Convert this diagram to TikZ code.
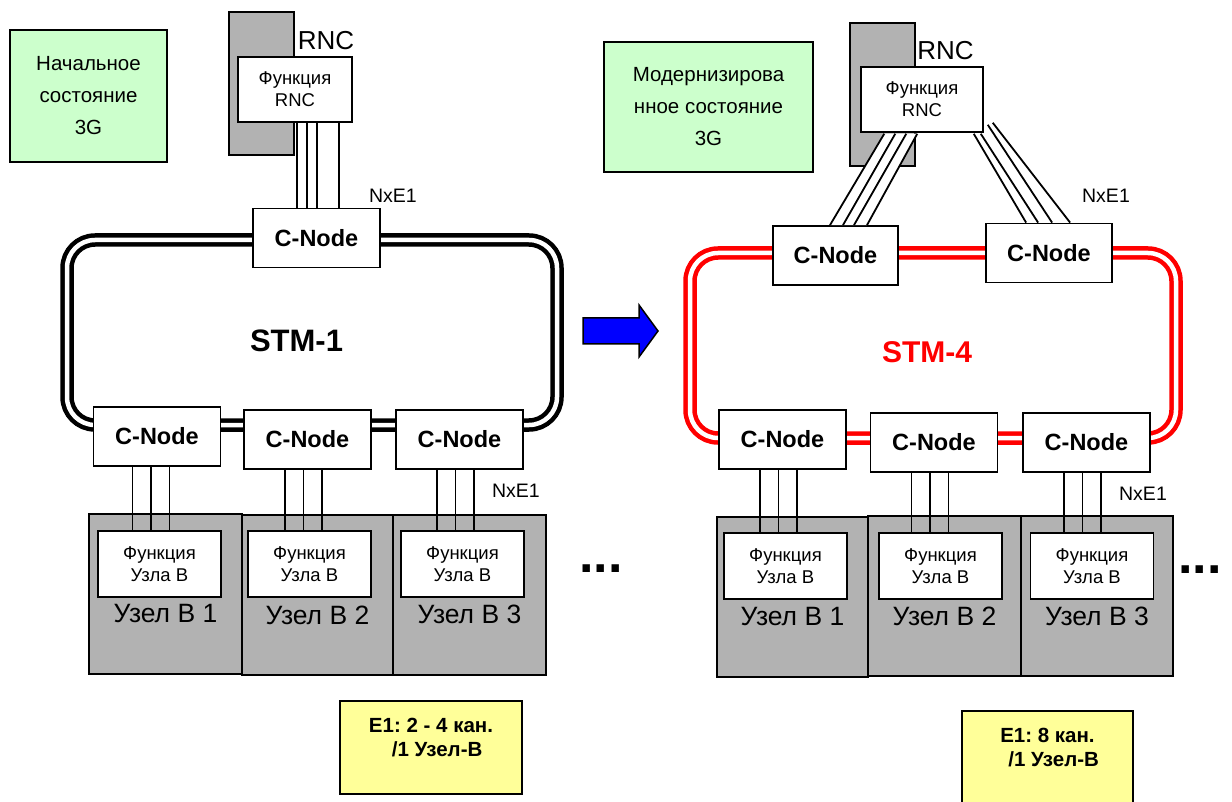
\documentclass[tikz,border=0pt]{standalone}
\usepackage{fontspec}
\setmainfont{Liberation Sans}
\usepackage{xcolor}
\usepackage{tikz}
\usetikzlibrary{positioning,calc}
\frenchspacing

\definecolor{grayB}{HTML}{B2B2B2}
\definecolor{greenN}{HTML}{CCFFCC}
\definecolor{yellowN}{HTML}{FFFF99}

\begin{document}
\begin{tikzpicture}[x=1pt, y=-1pt,
  cnode/.style={draw, line width=1.8, fill=white, minimum width=127, minimum height=59,
                inner sep=0, font=\fontsize{23.5}{28}\selectfont\bfseries},
  fbox/.style={draw, line width=1.5, fill=white, minimum width=123, minimum height=66,
               inner sep=0, align=center, font=\fontsize{18.5}{22}\selectfont},
  ubox/.style={draw, line width=2, fill=grayB, minimum width=152, minimum height=160, inner sep=0},
  ulbl/.style={inner sep=0, font=\fontsize{26.5}{30}\selectfont},
  note/.style={draw, line width=1.5, fill=greenN, align=center, inner sep=0,
               font=\fontsize{20.5}{32}\selectfont},
  memo/.style={draw, line width=1.5, fill=yellowN, inner sep=0},
  memotxt/.style={inner sep=0, align=center, font=\fontsize{20.5}{24}\selectfont\bfseries},
  lbl/.style={inner sep=0, font=\fontsize{19.5}{23}\selectfont},
  rncl/.style={inner sep=0, font=\fontsize{26}{30}\selectfont},
  stm/.style={inner sep=0, font=\fontsize{31}{36}\selectfont\bfseries},
  dots/.style={inner sep=0, anchor=base west, font=\fontsize{52}{60}\selectfont\bfseries},
  ringK/.style={draw=black, double=white, line width=4.5, double distance=4.5, rounded corners=28},
  ringR/.style={ringK, draw=red},
  link/.style={line width=1.8},
]
  \useasboundingbox (0,0) rectangle (1232,802);

  % ---- initial state (left)
  \node[note, minimum width=157, minimum height=132] (noteL) at (88.5,96) {Начальное\\состояние\\3G};
  \node[ubox, minimum width=65, minimum height=143] (rncL) at (261.5,83.5) {};
  \node[rncl] (rncLt) at (326,41) {RNC};
  \node[fbox, minimum width=114, minimum height=65] (frncL) at (295,89.5) {Функция\\RNC};

  \draw[ringK] (67,240) rectangle (557,425);

  \node[cnode] (cnT) at (316.5,238) {C-Node};
  \node[lbl] (nxeT) at (393,196) {NxE1};
  \node[stm] (stmA) at (296.5,341) {STM-1};

  \node[cnode] (cn1) at (157,436.5) {C-Node};
  \node[cnode] (cn2) at (307.5,439.5) {C-Node};
  \node[cnode] (cn3) at (459.5,439.5) {C-Node};

  \node[ubox, minimum width=153] (u1) at (165.5,594) {};
  \node[ubox, minimum width=151] (u2) at (317.5,595) {};
  \node[ubox, minimum width=153] (u3) at (469.5,594.5) {};
  \node[fbox] (f1) at (159.5,564) {Функция\\Узла В};
  \node[fbox] (f2) at (309.5,564) {Функция\\Узла В};
  \node[fbox] (f3) at (462.5,564) {Функция\\Узла В};
  \node[ulbl] (l1) at ($(u1.center)+(0,20)$) {Узел В 1};
  \node[ulbl] (l2) at ($(u2.center)+(0,20)$) {Узел В 2};
  \node[ulbl] (l3) at ($(u3.center)+(0,20)$) {Узел В 3};

  \node[lbl] (nxeB) at (516,491) {NxE1};
  \node[dots] (dotsL) at (579,572) {...};

  \node[memo, minimum width=182, minimum height=93] (memoL) at (431,747.5) {};
  \node[memotxt, below=18pt of memoL.north] (memoLt) {E1: 2 - 4 кан.\\\hspace*{0.6em}/1 Узел-В};

  \foreach \dx in {2,12,22,44}
    \draw[link] ($(frncL.south)+(\dx,0)$) -- ($(frncL.south |- cnT.north)+(\dx,0)$);

  % ---- upgrade arrow
  \draw[line width=1.5, fill=blue] (583,318) -- (639,318) -- (639,305) -- (658,331)
    -- (639,357) -- (639,344) -- (583,344) -- cycle;

  % ---- modernised state (right)
  \node[note, minimum width=209, minimum height=130] (noteR) at (708.5,107) {Модернизирова\\нное состояние\\3G};
  \node[ubox, minimum width=65, minimum height=143] (rncR) at (882.5,94.5) {};
  \node[rncl] (rncRt) at (945.5,51) {RNC};
  \node[fbox, minimum width=122, minimum height=65] (frncR) at (922,99.5) {Функция\\RNC};

  \draw[ringR] (690,253) rectangle (1176,438);

  \node[cnode, minimum width=125] (cnTL) at (835.5,255.5) {C-Node};
  \node[cnode, minimum width=126] (cnTR) at (1049,253) {C-Node};
  \node[lbl] (nxeTR) at (1106,196) {NxE1};
  \node[stm, red, font=\fontsize{30}{36}\selectfont\bfseries] (stmB) at (927,352) {STM-4};

  \fill[white] ($(frncR.south west)+(24,1)$) -- ($(frncR.south west)+(57,1)$)
    -- ($(cnTL.north)+(31.5,0)$) -- ($(cnTL.north)+(-5.5,0)$) -- cycle;
  \foreach \a/\b in {24/-5.5, 35/7.5, 46/18.5, 57/31.5}
    \draw[link] ($(frncR.south west)+(\a,1)$) -- ($(cnTL.north)+(\b,0)$);
  \foreach \ax/\ay/\b in {-10/1/41, -3/1/53, 4/-8/67, 9/-10/85}
    \draw[link] ($(frncR.south east)+(\ax,\ay)$) -- ($(cnTR.north west)+(\b,0)$);

  \node[cnode] (cnR1) at (782.5,439.5) {C-Node};
  \node[cnode] (cnR2) at (934,442.5) {C-Node};
  \node[cnode] (cnR3) at (1086.5,442.5) {C-Node};

  \node[ubox, minimum width=151] (uR1) at (792.5,597) {};
  \node[ubox, minimum width=153] (uR2) at (944.5,596) {};
  \node[ubox, minimum width=152] (uR3) at (1097,596) {};
  \node[fbox] (fR1) at (785.5,566) {Функция\\Узла В};
  \node[fbox] (fR2) at (940.5,566) {Функция\\Узла В};
  \node[fbox] (fR3) at (1092,566) {Функция\\Узла В};
  \node[ulbl] (lR1) at ($(uR1.center)+(0,20)$) {Узел В 1};
  \node[ulbl] (lR2) at ($(uR2.center)+(0,20)$) {Узел В 2};
  \node[ulbl] (lR3) at ($(uR3.center)+(0,20)$) {Узел В 3};

  \node[lbl] (nxeBR) at (1143,494) {NxE1};
  \node[dots] (dotsR) at (1178,573) {...};

  \node[memo, minimum width=171, minimum height=95] (memoR) at (1047.5,758.5) {};
  \node[memotxt, below=18pt of memoR.north] (memoRt) {E1: 8 кан.\\\hspace*{0.6em}/1 Узел-В};

  % E1 links to the B nodes
  \foreach \c/\f/\dx in {cn1/f1/-6, cn2/f2/-4, cn3/f3/-4, cnR1/fR1/-4, cnR2/fR2/-4, cnR3/fR3/-4}
    \foreach \k in {-18.5,0,18.5}
      \draw[link] ($(\c.south)+(\dx+\k,0)$) -- ($(\c.south |- \f.north)+(\dx+\k,0)$);
\end{tikzpicture}
\end{document}
